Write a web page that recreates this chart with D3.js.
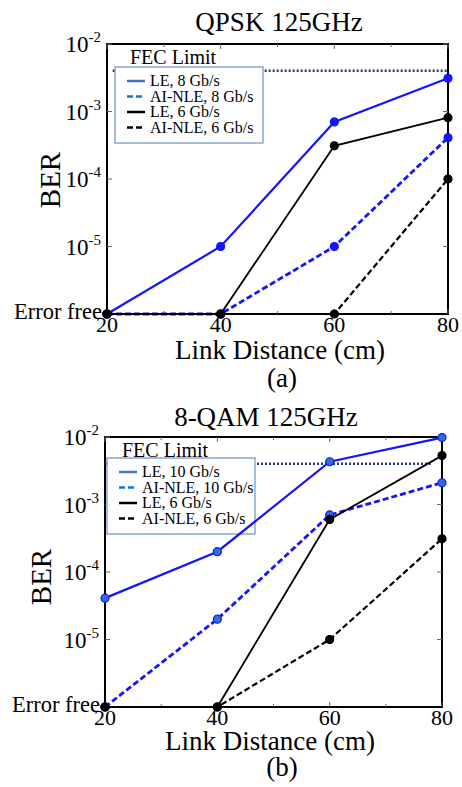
<!DOCTYPE html>
<html>
<head>
<meta charset="utf-8">
<style>
  body { margin: 0; background: #fff; }
  svg { display: block; }
</style>
</head>
<body>
<div id="chart"></div>
<script src="https://d3js.org/d3.v7.min.js"></script>
<script>
    const width = 462;
    const height = 787;

    // BER floor used to place "Error free" points on the log axis
    const ERROR_FREE = 1e-6;
    const FEC_LIMIT = 4e-3;

    const distances = [20, 40, 60, 80];
    const xTicks = [20, 40, 60, 80];
    const xMinorTicks = [30, 50, 70];
    const yDecades = [1e-2, 1e-3, 1e-4, 1e-5];
    const yTickExponents = ["-2", "-3", "-4", "-5"];

    // (a) QPSK 125GHz
    const qpskNames = ["LE, 8 Gb/s", "AI-NLE, 8 Gb/s", "LE, 6 Gb/s", "AI-NLE, 6 Gb/s"];
    const qpskLE8 = [ERROR_FREE, 1e-5, 7e-4, 3.1e-3];
    const qpskNLE8 = [ERROR_FREE, ERROR_FREE, 1e-5, 4.1e-4];
    const qpskLE6 = [ERROR_FREE, ERROR_FREE, 3.1e-4, 8.1e-4];
    const qpskNLE6 = [ERROR_FREE, ERROR_FREE, ERROR_FREE, 1e-4];

    // (b) 8-QAM 125GHz
    const qamNames = ["LE, 10 Gb/s", "AI-NLE, 10 Gb/s", "LE, 6 Gb/s", "AI-NLE, 6 Gb/s"];
    const qamLE10 = [4.1e-5, 2e-4, 4.3e-3, 9.8e-3];
    const qamNLE10 = [ERROR_FREE, 2e-5, 7e-4, 2.1e-3];
    const qamLE6 = [ERROR_FREE, ERROR_FREE, 6e-4, 5.3e-3];
    const qamNLE6 = [ERROR_FREE, ERROR_FREE, 1e-5, 3.1e-4];

    const serif = "'Liberation Serif', 'Times New Roman', serif";

    const svg = d3.select("#chart")
        .append("svg")
        .attr("width", width)
        .attr("height", height);

    const lineStyles = [
        { stroke: "#1414ff", width: 2.2, dash: null, legend: "#4472c4" },
        { stroke: "#1414ff", width: 2.8, dash: "6,3", legend: "#0a78d0" },
        { stroke: "#000", width: 1.8, dash: null, legend: "#000" },
        { stroke: "#000", width: 2.2, dash: "6,3", legend: "#000" }
    ];

    function drawPanel(p) {
        const g = svg.append("g");
        const x = d3.scaleLinear().domain([20, 80]).range([p.left, p.right]);
        const y = d3.scaleLog().domain([ERROR_FREE, 1e-2]).range([p.bottom, p.top]);

        // title
        g.append("text")
            .attr("x", p.titleX).attr("y", p.titleY)
            .attr("text-anchor", "middle")
            .style("font-family", serif).style("font-size", "27px")
            .text(p.title);

        // frame
        g.append("rect")
            .attr("x", p.left).attr("y", p.top)
            .attr("width", p.right - p.left).attr("height", p.bottom - p.top)
            .attr("fill", "none").attr("stroke", "#000").attr("stroke-width", 2);

        // ticks (inward, both sides)
        const tk = g.append("g").attr("stroke", "#666").attr("stroke-width", 1);
        xTicks.concat(xMinorTicks).forEach(v => {
            const len = xTicks.includes(v) ? 5 : 3;
            tk.append("line").attr("x1", x(v)).attr("x2", x(v)).attr("y1", p.bottom).attr("y2", p.bottom - len);
            tk.append("line").attr("x1", x(v)).attr("x2", x(v)).attr("y1", p.top).attr("y2", p.top + len);
        });
        yDecades.forEach(v => {
            tk.append("line").attr("x1", p.left).attr("x2", p.left + 5).attr("y1", y(v)).attr("y2", y(v));
            tk.append("line").attr("x1", p.right).attr("x2", p.right - 5).attr("y1", y(v)).attr("y2", y(v));
        });

        // x tick labels
        g.selectAll(".xl").data(xTicks).join("text")
            .attr("x", d => x(d)).attr("y", p.bottom + 18)
            .attr("text-anchor", "middle")
            .style("font-family", serif).style("font-size", "22px")
            .text(d => d);

        // y tick labels 10^-n
        yDecades.forEach((v, i) => {
            const t = g.append("text")
                .attr("x", p.left - 6).attr("y", y(v) + 8)
                .attr("text-anchor", "end")
                .style("font-family", serif).style("font-size", "23px");
            t.append("tspan").text("10");
            t.append("tspan").attr("dy", -10).style("font-size", "15px").text(yTickExponents[i]);
        });
        g.append("text")
            .attr("x", p.left - 5).attr("y", p.bottom + 5)
            .attr("text-anchor", "end")
            .style("font-family", serif).style("font-size", "22.5px")
            .text("Error free");

        // axis titles
        g.append("text")
            .attr("transform", `translate(${p.berX},${p.berY}) rotate(-90)`)
            .attr("text-anchor", "middle")
            .style("font-family", serif).style("font-size", "29px")
            .text("BER");
        g.append("text")
            .attr("x", p.xlabX).attr("y", p.xlabY)
            .attr("text-anchor", "middle")
            .style("font-family", serif).style("font-size", "27px")
            .text("Link Distance (cm)");
        g.append("text")
            .attr("x", 282).attr("y", p.capY)
            .attr("text-anchor", "middle")
            .style("font-family", serif).style("font-size", "27px")
            .text(p.caption);

        // FEC limit
        g.append("line")
            .attr("x1", x(p.fecStart)).attr("x2", x(p.fecEnd))
            .attr("y1", y(FEC_LIMIT)).attr("y2", y(FEC_LIMIT))
            .attr("stroke", "#1f3a78").attr("stroke-width", 2.5)
            .attr("stroke-dasharray", "2,2");
        g.append("text")
            .attr("x", p.legX + 15).attr("y", y(FEC_LIMIT) - 7)
            .style("font-family", serif).style("font-size", "20px")
            .text("FEC Limit");

        // legend box
        const lg = g.append("g");
        lg.append("rect")
            .attr("x", p.legX).attr("y", p.legY)
            .attr("width", 148).attr("height", 76)
            .attr("fill", "#fff").attr("stroke", "#6f8fc8").attr("stroke-width", 1.2);
        p.names.forEach((name, i) => {
            const s = lineStyles[i];
            const ry = p.legY + 14 + i * 15.5;
            lg.append("line")
                .attr("x1", p.legX + 12).attr("x2", p.legX + 30)
                .attr("y1", ry).attr("y2", ry)
                .attr("stroke", s.legend).attr("stroke-width", 2.5)
                .attr("stroke-dasharray", s.dash ? "6,3" : null);
            lg.append("text")
                .attr("x", p.legX + 35).attr("y", ry + 5)
                .style("font-family", serif).style("font-size", "16px")
                .text(name);
        });

        // series
        const line = d3.line().x((d, i) => x(distances[i])).y(d => y(d));
        p.series.forEach((vals, i) => {
            const s = lineStyles[i];
            g.append("path")
                .datum(vals)
                .attr("d", line)
                .attr("fill", "none")
                .attr("stroke", s.stroke)
                .attr("stroke-width", s.width)
                .attr("stroke-dasharray", s.dash);
            g.selectAll(null).data(vals).join("circle")
                .attr("cx", (d, j) => x(distances[j]))
                .attr("cy", d => y(d))
                .attr("r", 4)
                .attr("fill", s.stroke === "#000" ? "#000" : p.markerFill)
                .attr("stroke", s.stroke)
                .attr("stroke-width", 1.2);
        });
    }

    drawPanel({
        title: "QPSK 125GHz", titleX: 279, titleY: 31,
        left: 107, right: 448, top: 44, bottom: 314,
        berX: 60, berY: 180,
        xlabX: 280, xlabY: 359, caption: "(a)", capY: 387,
        legX: 115, legY: 67, fecStart: 21, fecEnd: 80,
        names: qpskNames,
        series: [qpskLE8, qpskNLE8, qpskLE6, qpskNLE6],
        markerFill: "#1414ff"
    });

    drawPanel({
        title: "8-QAM 125GHz", titleX: 266, titleY: 426,
        left: 105, right: 442, top: 437, bottom: 707,
        berX: 51, berY: 577,
        xlabX: 270, xlabY: 750, caption: "(b)", capY: 776,
        legX: 107, legY: 458, fecStart: 20, fecEnd: 78,
        names: qamNames,
        series: [qamLE10, qamNLE10, qamLE6, qamNLE6],
        markerFill: "#2f6fd0"
    });
</script>
</body>
</html>
